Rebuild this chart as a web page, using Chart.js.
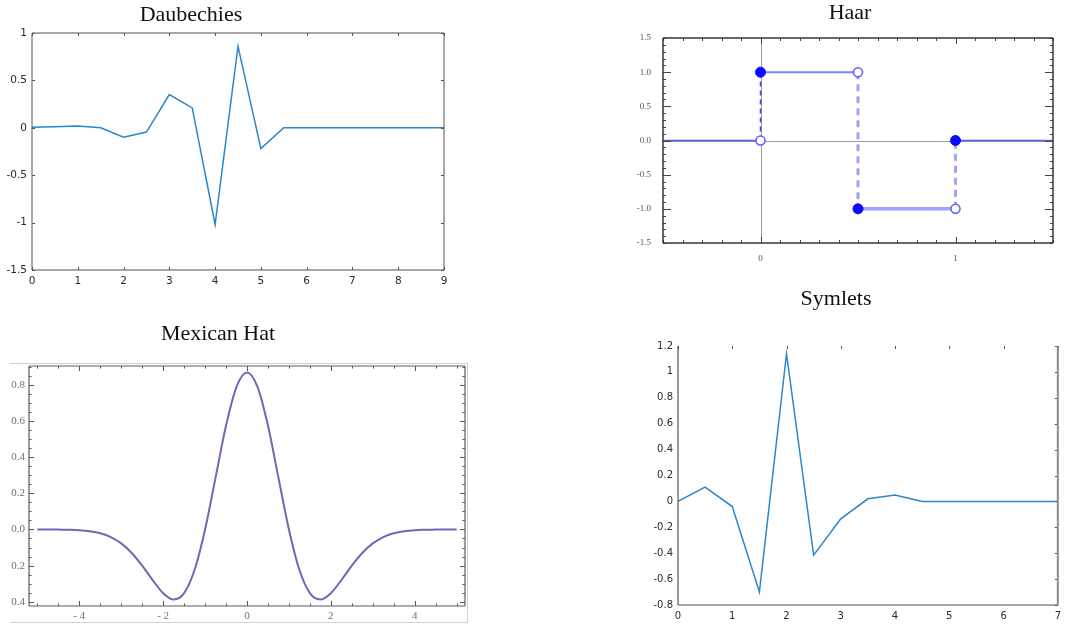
<!DOCTYPE html>
<html>
<head>
<meta charset="utf-8">
<script src="https://cdn.jsdelivr.net/npm/chart.js@4.4.0/dist/chart.umd.min.js"></script>
<style>
  body { margin: 0; background: #fff; }
  #page { position: relative; width: 1066px; height: 625px; overflow: hidden; background: #fff; }
  canvas { position: absolute; left: 0; top: 0; }
  .title {
    position: absolute; transform: translateX(-50%); white-space: nowrap;
    font-family: "Liberation Serif", "Times New Roman", serif; font-size: 22px; line-height: 22px; color: #111;
  }
  #hatBox {
    position: absolute; left: 10px; top: 363px; width: 457px; height: 258px;
    border-top: 1px solid #cfd0d8; border-right: 1px solid #cfd0d8; border-bottom: 1px solid #cfd0d8;
  }
</style>
</head>
<body>
<div id="page">
  <div id="hatBox"></div>
  <canvas id="daub" width="1066" height="625"></canvas>
  <canvas id="haar" width="1066" height="625"></canvas>
  <canvas id="hat" width="1066" height="625"></canvas>
  <canvas id="sym" width="1066" height="625"></canvas>
  <div class="title" style="left:191px; top:3px;">Daubechies</div>
  <div class="title" style="left:850px; top:1px;">Haar</div>
  <div class="title" style="left:218px; top:322px;">Mexican Hat</div>
  <div class="title" style="left:836px; top:287px;">Symlets</div>
</div>
<script>
// ---- data ----
const daubX = [0, 0.5, 1, 1.5, 2, 2.5, 3, 3.5, 4, 4.5, 5, 5.5, 6, 6.5, 7, 7.5, 8, 8.5, 9];
const daubY = [0.005, 0.01, 0.02, 0.0, -0.10, -0.045, 0.35, 0.21, -1.02, 0.86, -0.22, 0, 0, 0, 0, 0, 0, 0, 0];
const daubXTicks = [0, 1, 2, 3, 4, 5, 6, 7, 8, 9];
const daubYTicks = [-1.5, -1, -0.5, 0, 0.5, 1];

// Haar: value on each interval between consecutive edges
const haarEdges = [-0.5, 0, 0.5, 1, 1.5];
const haarLevels = [0, 1, -1, 0];
const haarXTicks = [0, 1];
const haarYTicks = [-1.5, -1, -0.5, 0, 0.5, 1, 1.5];

const hatX = [-5, -4.75, -4.5, -4.25, -4, -3.75, -3.5, -3.25, -3, -2.75, -2.5, -2.25, -2, -1.75, -1.5, -1.25, -1, -0.75, -0.5, -0.25,
  0, 0.25, 0.5, 0.75, 1, 1.25, 1.5, 1.75, 2, 2.25, 2.5, 2.75, 3, 3.25, 3.5, 3.75, 4, 4.25, 4.5, 4.75, 5];
const hatY = [0, 0, -0.001, -0.002, -0.004, -0.010, -0.021, -0.042, -0.077, -0.130, -0.200, -0.280, -0.352, -0.387, -0.352, -0.223, 0, 0.286, 0.574, 0.788,
  0.867, 0.788, 0.574, 0.286, 0, -0.223, -0.352, -0.387, -0.352, -0.280, -0.200, -0.130, -0.077, -0.042, -0.021, -0.010, -0.004, -0.002, -0.001, 0, 0];
const hatXTicks = [-4, -2, 0, 2, 4];
const hatYTicks = [-0.4, -0.2, 0, 0.2, 0.4, 0.6, 0.8];

const symX = [0, 0.5, 1, 1.5, 2, 2.5, 3, 3.5, 4, 4.5, 5, 5.5, 6, 6.5, 7];
const symY = [0, 0.11, -0.04, -0.70, 1.14, -0.415, -0.135, 0.02, 0.05, 0, 0, 0, 0, 0, 0];
const symXTicks = [0, 1, 2, 3, 4, 5, 6, 7];
const symYTicks = [-0.8, -0.6, -0.4, -0.2, 0, 0.2, 0.4, 0.6, 0.8, 1, 1.2];

// ---- helpers ----
const W = 1066, H = 625;
const pts = (xs, ys) => xs.map((x, i) => ({ x: x, y: ys[i] }));

function layoutFor(box, yW, xH) {
  return { padding: { left: box.l - yW, top: box.t, right: W - box.r, bottom: H - box.b - xH } };
}

function axis(min, max, ticks, size, horizontal, t) {
  return {
    type: 'linear', min: min, max: max,
    grid: { display: false, drawTicks: false },
    border: { display: false },
    afterBuildTicks: s => { s.ticks = ticks.map(v => ({ value: v })); },
    afterFit: s => { if (horizontal) s.height = size; else s.width = size; },
    ticks: { autoSkip: false, maxRotation: 0, padding: t.pad, color: t.color, font: t.font, callback: t.fmt }
  };
}

// tick marks every `step` between min and max, longer where they hit a major value
function marks(min, max, step, majors, minorLen, majorLen) {
  const out = [];
  const n = Math.round((max - min) / step);
  for (let i = 0; i <= n; i++) {
    const v = +(min + i * step).toFixed(6);
    const major = majors.some(m => Math.abs(m - v) < 1e-6);
    out.push({ v: v, len: major ? majorLen : minorLen });
  }
  return out;
}

// box frame with inward ticks, plus optional zero axes
function framePlugin(o) {
  return {
    id: 'frame',
    beforeDatasetsDraw(chart) {
      if (!o.zeroLines) return;
      const { ctx, chartArea: a, scales: { x, y } } = chart;
      ctx.save();
      ctx.strokeStyle = o.zeroLines; ctx.lineWidth = 1;
      const px = Math.round(x.getPixelForValue(0)) + 0.5;
      const py = Math.round(y.getPixelForValue(0)) + 0.5;
      ctx.beginPath();
      ctx.moveTo(px, a.top); ctx.lineTo(px, a.bottom);
      ctx.moveTo(a.left, py); ctx.lineTo(a.right, py);
      ctx.stroke();
      ctx.restore();
    },
    afterDatasetsDraw(chart) {
      const { ctx, chartArea: a, scales: { x, y } } = chart;
      ctx.save();
      ctx.strokeStyle = o.tickColor; ctx.lineWidth = o.tickWidth || 1;
      ctx.beginPath();
      for (const t of o.xMarks) {
        const px = Math.round(x.getPixelForValue(t.v)) + 0.5;
        if (o.tickSides.includes('top')) { ctx.moveTo(px, a.top); ctx.lineTo(px, a.top + t.len); }
        if (o.tickSides.includes('bottom')) { ctx.moveTo(px, a.bottom); ctx.lineTo(px, a.bottom - t.len); }
      }
      for (const t of o.yMarks) {
        const py = Math.round(y.getPixelForValue(t.v)) + 0.5;
        if (o.tickSides.includes('left')) { ctx.moveTo(a.left, py); ctx.lineTo(a.left + t.len, py); }
        if (o.tickSides.includes('right')) { ctx.moveTo(a.right, py); ctx.lineTo(a.right - t.len, py); }
      }
      ctx.stroke();
      for (const s of o.sides) {
        ctx.strokeStyle = s.color; ctx.lineWidth = s.width;
        ctx.beginPath();
        if (s.side === 'top') { ctx.moveTo(a.left, a.top); ctx.lineTo(a.right, a.top); }
        if (s.side === 'bottom') { ctx.moveTo(a.left, a.bottom); ctx.lineTo(a.right, a.bottom); }
        if (s.side === 'left') { ctx.moveTo(a.left, a.top); ctx.lineTo(a.left, a.bottom); }
        if (s.side === 'right') { ctx.moveTo(a.right, a.top); ctx.lineTo(a.right, a.bottom); }
        ctx.stroke();
      }
      ctx.restore();
    }
  };
}

const allSides = (color, width) => ['top', 'bottom', 'left', 'right'].map(s => ({ side: s, color: color, width: width }));

const base = {
  responsive: false, animation: false, devicePixelRatio: 1,
  plugins: { legend: { display: false }, tooltip: { enabled: false } }
};

// ---- Daubechies ----
const daubTick = { pad: 5, color: '#2a2a2a', font: { family: 'DejaVu Sans', size: 10.5 } };
new Chart(document.getElementById('daub'), {
  type: 'line',
  data: { datasets: [{ data: pts(daubX, daubY), borderColor: '#2a86cb', borderWidth: 1.5, pointRadius: 0, tension: 0 }] },
  options: Object.assign({}, base, {
    layout: layoutFor({ l: 32, t: 33, r: 444, b: 270 }, 30, 20),
    scales: {
      x: axis(0, 9, daubXTicks, 20, true, daubTick),
      y: axis(-1.5, 1, daubYTicks, 30, false, daubTick)
    }
  }),
  plugins: [framePlugin({
    tickColor: '#555', tickSides: ['top', 'bottom', 'left', 'right'],
    xMarks: daubXTicks.map(v => ({ v: v, len: 3 })), yMarks: daubYTicks.map(v => ({ v: v, len: 3 })),
    sides: allSides('#555', 1)
  })]
});

// ---- Haar ----
const haarTick = { pad: 12, color: '#555', font: { family: 'Liberation Serif', size: 9 }, fmt: v => v.toFixed(1) };
const haarSets = [];
// filled ends (drawn on top)
for (let j = 1; j < haarEdges.length - 1; j++) {
  haarSets.push({ data: [{ x: haarEdges[j], y: haarLevels[j] }], showLine: false,
    pointRadius: 5, pointBackgroundColor: '#0a0aff', pointBorderColor: '#0a0aff', pointBorderWidth: 1 });
}
// open ends
for (let j = 1; j < haarEdges.length - 1; j++) {
  haarSets.push({ data: [{ x: haarEdges[j], y: haarLevels[j - 1] }], showLine: false,
    pointRadius: 4.5, pointBackgroundColor: '#fff', pointBorderColor: '#5c5cff', pointBorderWidth: 1.5 });
}
// dashed jumps
const jumpStyle = [null, { c: '#3d3dff', w: 1.5, d: [5, 4] }, { c: '#a2a2ff', w: 3, d: [7, 5] }, { c: '#a2a2ff', w: 3, d: [7, 5] }];
for (let j = 1; j < haarEdges.length - 1; j++) {
  const s = jumpStyle[j];
  haarSets.push({ data: [{ x: haarEdges[j], y: haarLevels[j - 1] }, { x: haarEdges[j], y: haarLevels[j] }],
    borderColor: s.c, borderWidth: s.w, borderDash: s.d, pointRadius: 0 });
}
// flat pieces
const flatStyle = [{ c: '#5a5aff', w: 1.5 }, { c: '#8080ff', w: 2 }, { c: '#a0a0ff', w: 3.5 }, { c: '#5a5aff', w: 1.5 }];
haarLevels.forEach((lv, i) => {
  haarSets.push({ data: [{ x: haarEdges[i], y: lv }, { x: haarEdges[i + 1], y: lv }],
    borderColor: flatStyle[i].c, borderWidth: flatStyle[i].w, pointRadius: 0 });
});
new Chart(document.getElementById('haar'), {
  type: 'line',
  data: { datasets: haarSets },
  options: Object.assign({}, base, {
    layout: layoutFor({ l: 663, t: 38, r: 1053, b: 243 }, 40, 25),
    scales: {
      x: axis(-0.5, 1.5, haarXTicks, 25, true, Object.assign({}, haarTick, { pad: 10, fmt: v => String(v) })),
      y: axis(-1.5, 1.5, haarYTicks, 40, false, haarTick)
    }
  }),
  plugins: [framePlugin({
    zeroLines: '#9a9a9a',
    tickColor: '#444', tickSides: ['top', 'bottom', 'left', 'right'],
    xMarks: marks(-0.5, 1.5, 0.1, haarXTicks, 3, 6), yMarks: marks(-1.5, 1.5, 0.1, [-1, -0.5, 0, 0.5, 1], 3, 8),
    sides: allSides('#333', 1.5)
  })]
});

// ---- Mexican Hat ----
const hatTick = { pad: 4, color: '#707070', font: { family: 'Liberation Serif', size: 11 } };
new Chart(document.getElementById('hat'), {
  type: 'line',
  data: { datasets: [{ data: pts(hatX, hatY), borderColor: '#6a6ab6', borderWidth: 2, pointRadius: 0, cubicInterpolationMode: 'monotone' }] },
  options: Object.assign({}, base, {
    layout: layoutFor({ l: 29, t: 366, r: 465, b: 606 }, 28, 18),
    scales: {
      x: axis(-5.2, 5.2, hatXTicks, 18, true, Object.assign({}, hatTick, { fmt: v => v < 0 ? '- ' + Math.abs(v) : String(v) })),
      y: axis(-0.423, 0.903, hatYTicks, 28, false, Object.assign({}, hatTick, { fmt: v => Math.abs(v).toFixed(1) }))
    }
  }),
  plugins: [framePlugin({
    tickColor: '#555', tickSides: ['top', 'bottom', 'left', 'right'],
    xMarks: marks(-5, 5, 0.5, hatXTicks, 2.5, 5), yMarks: marks(-0.4, 0.9, 0.05, hatYTicks, 2.5, 5),
    sides: allSides('#5a5a5a', 1.2)
  })]
});

// ---- Symlets ----
const symTick = { pad: 5, color: '#2a2a2a', font: { family: 'DejaVu Sans', size: 10 } };
new Chart(document.getElementById('sym'), {
  type: 'line',
  data: { datasets: [{ data: pts(symX, symY), borderColor: '#2a86cb', borderWidth: 1.5, pointRadius: 0, tension: 0 }] },
  options: Object.assign({}, base, {
    layout: layoutFor({ l: 678, t: 346, r: 1063, b: 605 }, 34, 18),
    scales: {
      x: axis(0, 7, symXTicks, 18, true, symTick),
      y: axis(-0.8, 1.2, symYTicks, 34, false, symTick)
    }
  }),
  plugins: [framePlugin({
    tickColor: '#555', tickSides: ['top', 'right'],
    xMarks: symXTicks.map(v => ({ v: v, len: 3 })), yMarks: symYTicks.map(v => ({ v: v, len: 3 })),
    sides: [{ side: 'left', color: '#555', width: 1.2 }, { side: 'bottom', color: '#555', width: 1.2 }, { side: 'right', color: '#8a8a8a', width: 2 }]
  })]
});
</script>
</body>
</html>
